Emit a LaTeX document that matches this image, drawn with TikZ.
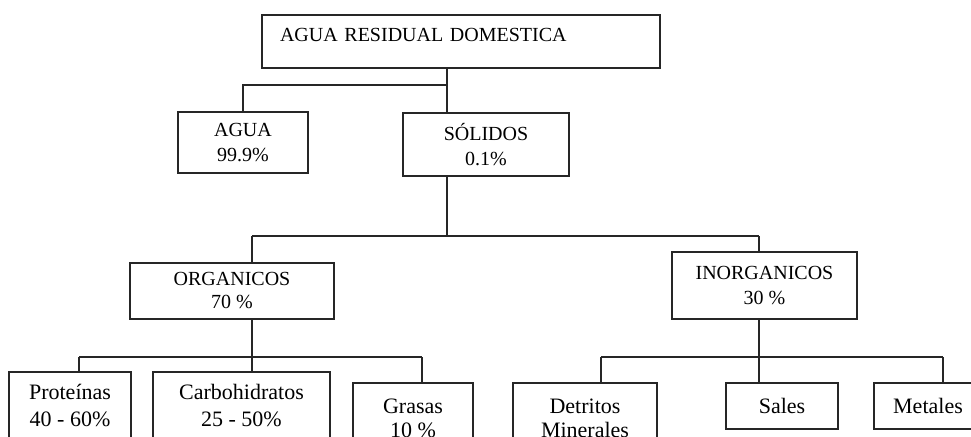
\documentclass[tikz,border=0pt]{standalone}
\usepackage{fontspec}
\setmainfont{Liberation Serif}
\begin{document}
\begin{tikzpicture}[x=0.5pt,y=-0.5pt,
  box/.style={draw=black!85, line width=1pt, inner sep=0pt, align=center, text=black},
  upper/.style={box, font=\fontsize{10}{12.5}\selectfont},
  lower/.style={box, font=\fontsize{11}{13.5}\selectfont},
  link/.style={draw=black!85, line width=1pt}]
\clip (0,0) rectangle (971,436);
\fill[white] (0,0) rectangle (971,436);
% level 0
\node[box, font=\fontsize{10}{12}\selectfont, anchor=north west, inner xsep=9pt, inner ysep=0pt,
      text width=181pt, align=left, text height=13pt, text depth=13.5pt] (top) at (261,14) {AGUA RESIDUAL DOMESTICA};
% level 1
\node[upper, minimum width=65pt, minimum height=30.5pt] (agua) at (243,142.5) {AGUA\\99.9\%};
\node[upper, minimum width=83pt, minimum height=31.5pt] (sol) at (486,144.5) {SÓLIDOS\\0.1\%};
% level 2
\node[upper, font=\fontsize{10}{11.5}\selectfont, minimum width=102pt, minimum height=28pt] (org) at (232,291) {ORGANICOS\\70 \%};
\node[upper, font=\fontsize{10}{13}\selectfont, minimum width=92.5pt, minimum height=33.5pt] (inorg) at (764.5,285.5) {INORGANICOS\\30 \%};
% level 3
\node[lower, minimum width=61pt, minimum height=33.5pt] (prot) at (70,405.5) {Proteínas\\40 - 60\%};
\node[lower, minimum width=88.5pt, minimum height=33.5pt] (carb) at (241.5,405.5) {Carbohidratos\\25 - 50\%};
\node[lower, font=\fontsize{11}{12}\selectfont, minimum width=60pt, minimum height=35pt] (gras) at (413,418) {Grasas\\10 \%};
\node[lower, font=\fontsize{11}{12}\selectfont, minimum width=72pt, minimum height=35pt] (detr) at (585,418) {Detritos\\Minerales};
\node[lower, minimum width=56pt, minimum height=23pt] (sales) at (782,406) {Sales};
\node[lower, minimum width=54pt, minimum height=23pt] (metal) at (928,406) {Metales};
% junctions
\coordinate (j1) at (447,85);
\coordinate (j2a) at (252,236);
\coordinate (j2b) at (759,236);
\coordinate (j2) at (447,236);
\coordinate (ka) at (79,357);
\coordinate (kc) at (252,357);
\coordinate (kb) at (422,357);
\coordinate (ma) at (601,357);
\coordinate (mc) at (759,357);
\coordinate (mb) at (943,357);
% connectors
\path[link] (top.south -| j1) -- (sol.north -| j1);
\path[link] (j1) -| (agua.north);
\path[link] (sol.south -| j2) -- (j2);
\path[link] (j2a) -- (j2b);
\path[link] (j2a) -- (org.north -| j2a);
\path[link] (j2b) -- (inorg.north -| j2b);
\path[link] (org.south -| kc) -- (carb.north -| kc);
\path[link] (ka) -- (kb);
\path[link] (ka) -- (prot.north -| ka);
\path[link] (kb) -- (gras.north -| kb);
\path[link] (inorg.south -| mc) -- (sales.north -| mc);
\path[link] (ma) -- (mb);
\path[link] (ma) -- (detr.north -| ma);
\path[link] (mb) -- (metal.north -| mb);
\end{tikzpicture}
\end{document}
